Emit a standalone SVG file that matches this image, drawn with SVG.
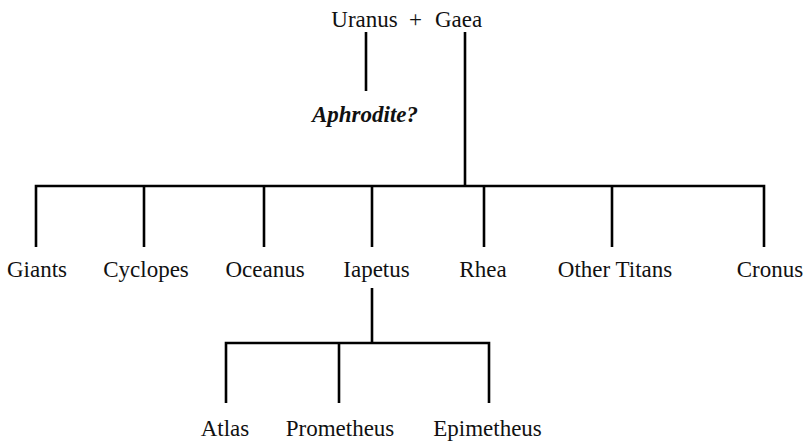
<svg xmlns="http://www.w3.org/2000/svg" width="809" height="444" viewBox="0 0 809 444">
<style>
text{font-family:"Liberation Serif","Times New Roman",serif;font-size:23px;fill:#111;text-anchor:middle}
.b{font-weight:bold;font-style:italic}
.c line,.c polyline{stroke:#000;stroke-width:2.6;fill:none}
</style>
<rect width="809" height="444" fill="#fff"/>
<g class="c" id="connectors">
<line x1="366" y1="32" x2="366" y2="91"/>
<line x1="465" y1="32" x2="465" y2="186"/>
<polyline points="36,247 36,186 764,186 764,247"/>
<line x1="144" y1="186" x2="144" y2="247"/>
<line x1="264" y1="186" x2="264" y2="247"/>
<line x1="372" y1="186" x2="372" y2="247"/>
<line x1="484" y1="186" x2="484" y2="247"/>
<line x1="612" y1="186" x2="612" y2="247"/>
<line x1="372" y1="288" x2="372" y2="343"/>
<polyline points="226,403 226,343 489,343 489,403"/>
<line x1="339" y1="343" x2="339" y2="403"/>
</g>
<g id="uranus"><text x="364.5" y="27">Uranus</text></g>
<g id="plus"><text x="415.5" y="27">+</text></g>
<g id="gaea"><text x="458.5" y="27">Gaea</text></g>
<g id="aphrodite"><text class="b" x="365" y="122">Aphrodite?</text></g>
<g id="giants"><text x="37" y="277">Giants</text></g>
<g id="cyclopes"><text x="146" y="277">Cyclopes</text></g>
<g id="oceanus"><text x="265" y="277">Oceanus</text></g>
<g id="iapetus"><text x="376.5" y="277">Iapetus</text></g>
<g id="rhea"><text x="483" y="277">Rhea</text></g>
<g id="other-titans"><text x="615" y="277">Other Titans</text></g>
<g id="cronus"><text x="770" y="277">Cronus</text></g>
<g id="atlas"><text x="225" y="436">Atlas</text></g>
<g id="prometheus"><text x="340" y="436">Prometheus</text></g>
<g id="epimetheus"><text x="487.5" y="436">Epimetheus</text></g>
</svg>
